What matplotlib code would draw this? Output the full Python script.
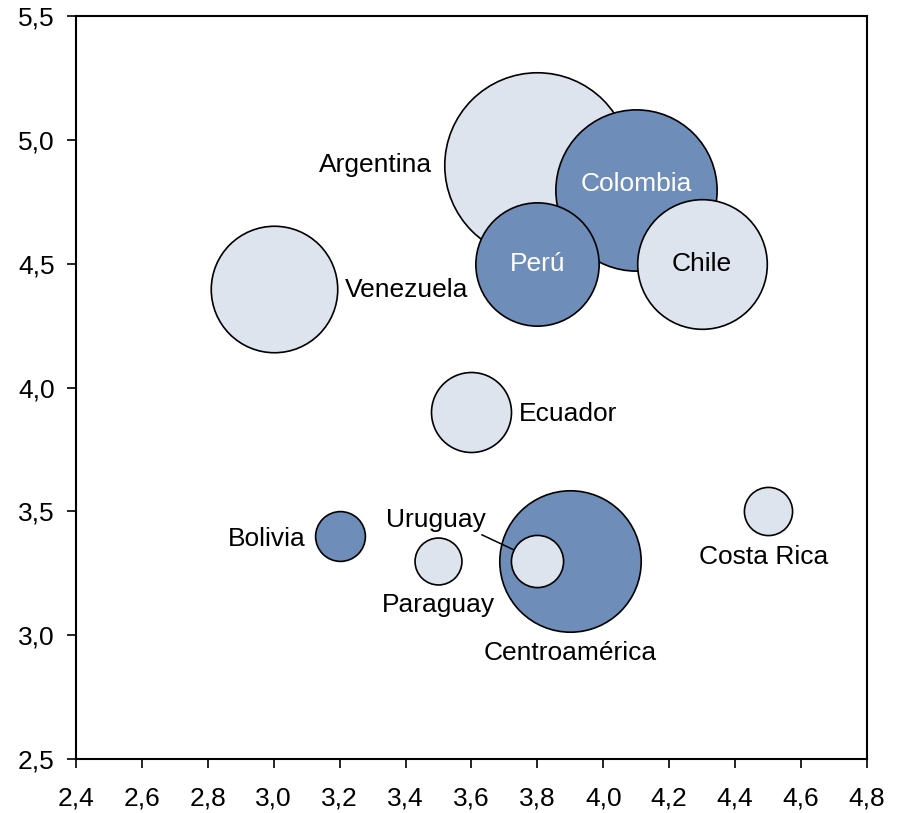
import matplotlib
matplotlib.use("Agg")
import matplotlib.pyplot as plt
import numpy as np

plt.rcParams['font.family'] = ['Liberation Sans', 'DejaVu Sans']

countries = ["Argentina", "Colombia", "Perú", "Chile", "Venezuela", "Ecuador",
             "Bolivia", "Paraguay", "Centroamérica", "Uruguay", "Costa Rica"]
x_vals = [3.8, 4.1, 3.8, 4.3, 3.0, 3.6, 3.2, 3.5, 3.9, 3.8, 4.5]
y_vals = [4.9, 4.8, 4.5, 4.5, 4.4, 3.9, 3.4, 3.3, 3.3, 3.3, 3.5]
bubble_vals = [86, 65, 38, 42, 40, 16, 6.2, 5.5, 50, 6.8, 5.8]
group = ["light", "dark", "dark", "light", "light", "light",
         "dark", "light", "dark", "light", "light"]

xticks = [2.4, 2.6, 2.8, 3.0, 3.2, 3.4, 3.6, 3.8, 4.0, 4.2, 4.4, 4.6, 4.8]
yticks = [2.5, 3.0, 3.5, 4.0, 4.5, 5.0, 5.5]

colors = {"dark": "#6E8DB9", "light": "#DEE4EE"}

# label placement: (dx pt, dy pt, ha, va, text color)
label_style = {
    "Argentina": (-76, 0, "right", "center", "black"),
    "Colombia": (0, 4, "center", "center", "white"),
    "Perú": (0, 0, "center", "center", "white"),
    "Chile": (0, 0, "center", "center", "black"),
    "Venezuela": (51, -1, "left", "center", "black"),
    "Ecuador": (34.5, -1, "left", "center", "black"),
    "Bolivia": (-24.5, -2, "right", "center", "black"),
    "Paraguay": (0, -32, "center", "center", "black"),
    "Centroamérica": (0, -66, "center", "center", "black"),
    "Uruguay": (-73, 29.5, "center", "center", "black"),
    "Costa Rica": (-3, -33, "center", "center", "black"),
}

fig = plt.figure(figsize=(9.02, 8.13), dpi=100)
ax = fig.add_axes([0.0843, 0.0664, 0.8767, 0.9136])

scale = 207.36
for name, x, y, v, g in zip(countries, x_vals, y_vals, bubble_vals, group):
    ax.scatter([x], [y], s=v * scale, color=colors[g], edgecolor="black",
               linewidth=1.2, zorder=2)

FS = 19
for name, x, y, v in zip(countries, x_vals, y_vals, bubble_vals):
    dx, dy, ha, va, c = label_style[name]
    if name == "Uruguay":
        r_pt = np.sqrt(v * scale) / 2
        ax.annotate(name, (x, y), xytext=(dx, dy), textcoords="offset points",
                    ha=ha, va=va, color=c, fontsize=FS, zorder=4,
                    arrowprops=dict(arrowstyle="-", color="black", lw=1.1,
                                    shrinkA=0, shrinkB=r_pt, relpos=(0.9, 0.0)))
    else:
        ax.annotate(name, (x, y), xytext=(dx, dy), textcoords="offset points",
                    ha=ha, va=va, color=c, fontsize=FS, zorder=4)

ax.set_xlim(2.4, 4.8)
ax.set_ylim(2.5, 5.5)
ax.set_xticks(xticks)
ax.set_yticks(yticks)
ax.set_xticklabels([f"{t:.1f}".replace(".", ",") for t in xticks])
ax.set_yticklabels([f"{t:.1f}".replace(".", ",") for t in yticks])
ax.tick_params(axis="both", direction="out", length=6.5, width=1.2,
               labelsize=19, colors="black")
ax.tick_params(axis="x", pad=13)
ax.tick_params(axis="y", pad=9)
for sp in ax.spines.values():
    sp.set_linewidth(1.5)
    sp.set_color("black")

fig.savefig("out.png", dpi=100)
